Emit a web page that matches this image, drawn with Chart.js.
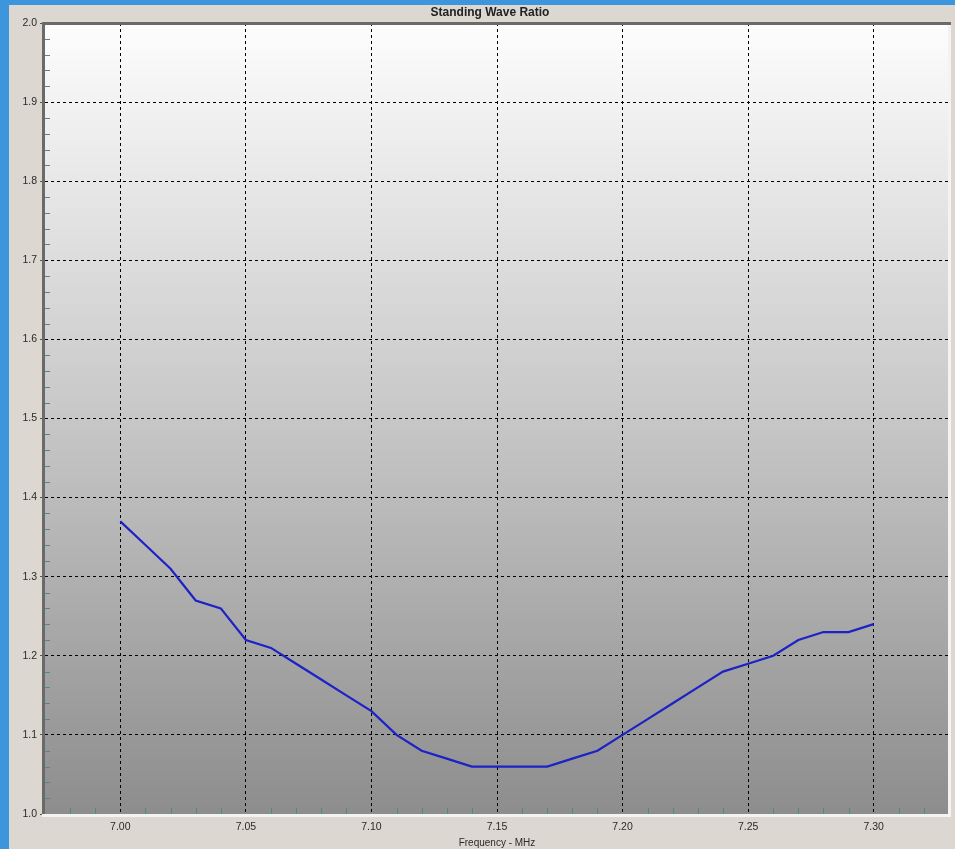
<!DOCTYPE html>
<html><head><meta charset="utf-8">
<script src="https://cdn.jsdelivr.net/npm/chart.js@4.4.1/dist/chart.umd.min.js"></script>
<style>
html,body{margin:0;padding:0;width:955px;height:849px;overflow:hidden;background:#3d95db;}
#panel{position:absolute;left:9px;top:5px;width:946px;height:844px;background:#dcd8d1;}
#wrap{position:absolute;left:0;top:0;width:955px;height:849px;}
</style></head><body>
<div id="panel"></div>
<div id="wrap"><canvas id="c" width="955" height="849"></canvas></div>
<script>
const chartTitle = 'Standing Wave Ratio';
const xAxisTitle = 'Frequency - MHz';
const freqs = [7.00,7.01,7.02,7.03,7.04,7.05,7.06,7.07,7.08,7.09,7.10,7.11,7.12,7.13,7.14,7.15,7.16,7.17,7.18,7.19,7.20,7.21,7.22,7.23,7.24,7.25,7.26,7.27,7.28,7.29,7.30];
const swr = [1.37,1.34,1.31,1.27,1.26,1.22,1.21,1.19,1.17,1.15,1.13,1.10,1.08,1.07,1.06,1.06,1.06,1.06,1.07,1.08,1.10,1.12,1.14,1.16,1.18,1.19,1.20,1.22,1.23,1.23,1.24];
const xTicks = [7.00,7.05,7.10,7.15,7.20,7.25,7.30];
const xTickLabels = ['7.00','7.05','7.10','7.15','7.20','7.25','7.30'];
const yTicks = [1.0,1.1,1.2,1.3,1.4,1.5,1.6,1.7,1.8,1.9,2.0];
const yTickLabels = ['1.0','1.1','1.2','1.3','1.4','1.5','1.6','1.7','1.8','1.9','2.0'];
const xMinorTicks = [6.98,6.99,7.01,7.02,7.03,7.04,7.06,7.07,7.08,7.09,7.11,7.12,7.13,7.14,7.16,7.17,7.18,7.19,7.21,7.22,7.23,7.24,7.26,7.27,7.28,7.29,7.31,7.32];
const yMinorTicks = [1.02,1.04,1.06,1.08,1.12,1.14,1.16,1.18,1.22,1.24,1.26,1.28,1.32,1.34,1.36,1.38,1.42,1.44,1.46,1.48,1.52,1.54,1.56,1.58,1.62,1.64,1.66,1.68,1.72,1.74,1.76,1.78,1.82,1.84,1.86,1.88,1.92,1.94,1.96,1.98];

const FONT = '"Liberation Sans", Arial, sans-serif';

const panelPlugin = {
  id: 'panel',
  beforeDraw(chart) {
    const {ctx, chartArea: a} = chart;
    const g = ctx.createLinearGradient(0, a.top, 0, a.bottom);
    g.addColorStop(0, '#fdfdfd');
    g.addColorStop(0.5, '#c7c7c7');
    g.addColorStop(1, '#8d8d8d');
    ctx.save();
    ctx.fillStyle = g;
    ctx.fillRect(a.left, a.top, a.right - a.left, a.bottom - a.top);
    ctx.restore();
  },
  beforeDatasetsDraw(chart) {
    const {ctx, chartArea: a, scales} = chart;
    ctx.save();
    ctx.strokeStyle = '#4a8c8c';
    ctx.lineWidth = 1;
    ctx.setLineDash([]);
    ctx.beginPath();
    xMinorTicks.forEach(v => {
      const px = Math.round(scales.x.getPixelForValue(v)) + 0.5;
      ctx.moveTo(px, a.bottom - 6);
      ctx.lineTo(px, a.bottom);
    });
    yMinorTicks.forEach(v => {
      const py = Math.round(scales.y.getPixelForValue(v)) + 0.5;
      ctx.moveTo(a.left, py);
      ctx.lineTo(a.left + 5, py);
    });
    ctx.stroke();
    ctx.fillStyle = '#6a6a6a';
    ctx.fillRect(a.left - 3, a.top - 1, a.right - a.left + 5, 3);
    ctx.fillRect(a.left - 3, a.top - 1, 3, a.bottom - a.top + 1);
    ctx.fillStyle = '#f3f3f3';
    ctx.fillRect(a.left - 3, a.bottom, a.right - a.left + 5, 3);
    ctx.fillRect(a.right - 1, a.top + 2, 3, a.bottom - a.top + 1);
    ctx.restore();
  },
  afterDraw(chart) {
    const {ctx} = chart;
    ctx.save();
    ctx.font = 'bold 12px ' + FONT;
    ctx.fillStyle = '#222';
    ctx.textAlign = 'center';
    ctx.textBaseline = 'middle';
    ctx.fillText(chartTitle, 490, 13);
    ctx.restore();
  }
};

new Chart(document.getElementById('c'), {
  type: 'line',
  data: {
    datasets: [{
      data: freqs.map((f, i) => ({x: f, y: swr[i]})),
      borderColor: '#1c22c6',
      borderWidth: 2.2,
      pointRadius: 0,
      tension: 0,
      fill: false
    }]
  },
  plugins: [panelPlugin],
  options: {
    responsive: false,
    animation: false,
    devicePixelRatio: 1,
    layout: {padding: {top: 23, right: 6, left: 0, bottom: 0}},
    plugins: {legend: {display: false}, title: {display: false}, tooltip: {enabled: false}},
    scales: {
      x: {
        type: 'linear', min: 6.97, max: 7.33,
        afterBuildTicks: s => { s.ticks = xTicks.map(v => ({value: v})); },
        afterFit: s => { s.height = 35; },
        ticks: {
          callback: (v, i) => xTickLabels[i],
          color: '#2a2a2a', font: {family: FONT, size: 10.5},
          padding: 1, maxRotation: 0, autoSkip: false
        },
        grid: {
          color: '#000', lineWidth: 1,
          tickLength: 6, tickColor: '#000', tickBorderDash: [3, 3]
        },
        border: {display: false, dash: [3, 3]},
        title: {display: true, text: xAxisTitle, color: '#2a2a2a', font: {family: FONT, size: 10}, padding: {top: 0, bottom: 0}}
      },
      y: {
        type: 'linear', min: 1.0, max: 2.0,
        afterBuildTicks: s => { s.ticks = yTicks.map(v => ({value: v})); },
        afterFit: s => { s.width = 45; },
        ticks: {
          callback: (v, i) => yTickLabels[i],
          color: '#2a2a2a', font: {family: FONT, size: 10.5},
          padding: 3, autoSkip: false
        },
        grid: {
          color: ctx => (ctx.tick && (Math.abs(ctx.tick.value - 1) < 1e-9 || Math.abs(ctx.tick.value - 2) < 1e-9)) ? 'rgba(0,0,0,0)' : '#000',
          lineWidth: 1,
          tickLength: 5, tickColor: '#555', tickBorderDash: []
        },
        border: {display: false, dash: [3, 3]}
      }
    }
  }
});
</script>
</body></html>
